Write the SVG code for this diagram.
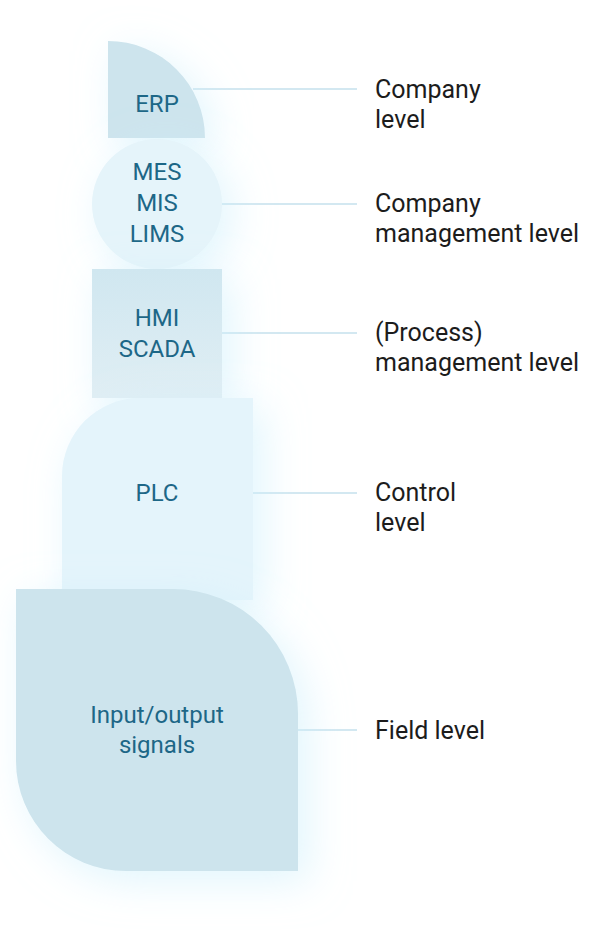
<svg xmlns="http://www.w3.org/2000/svg" width="597" height="936" viewBox="0 0 597 936">
  <defs>
    <filter id="glow" x="-50%" y="-50%" width="200%" height="200%">
      <feGaussianBlur in="SourceAlpha" stdDeviation="20" result="b"/>
      <feOffset in="b" dx="10" dy="10" result="o"/>
      <feFlood flood-color="#cdeffb" flood-opacity="0.6"/>
      <feComposite in2="o" operator="in" result="g"/>
      <feMerge>
        <feMergeNode in="g"/>
        <feMergeNode in="SourceGraphic"/>
      </feMerge>
    </filter>
    <linearGradient id="hmiGrad" x1="0" y1="0" x2="0" y2="1">
      <stop offset="0" stop-color="#d0e7f0"/>
      <stop offset="1" stop-color="#e0eef4"/>
    </linearGradient>
  </defs>
  <style>
    .node-text { font-family: Roboto, "Liberation Sans", sans-serif; font-size: 24px; fill: #1d6787; text-anchor: middle; }
    .label { font-family: Roboto, "Liberation Sans", sans-serif; font-size: 25px; fill: #1c1c1c; }
    .conn { stroke: #d3e8f1; stroke-width: 2; fill: none; }
  </style>
  <rect width="597" height="936" fill="#ffffff"/>

  <g id="connectors">
    <line class="conn" x1="193" y1="89" x2="357" y2="89"/>
    <line class="conn" x1="222" y1="204" x2="357" y2="204"/>
    <line class="conn" x1="222" y1="333" x2="357" y2="333"/>
    <line class="conn" x1="253" y1="493" x2="357" y2="493"/>
    <line class="conn" x1="298" y1="730" x2="357" y2="730"/>
  </g>

  <g id="node-erp">
    <path d="M108,41 A97,97 0 0 1 205,138 H108 Z" fill="#cde4ed" filter="url(#glow)"/>
    <text class="node-text" x="157" y="111.5">ERP</text>
  </g>

  <g id="node-mes">
    <circle cx="157" cy="204" r="65" fill="#e5f4fa" filter="url(#glow)"/>
    <text class="node-text" x="157" y="180">MES</text>
    <text class="node-text" x="157" y="211">MIS</text>
    <text class="node-text" x="157" y="242">LIMS</text>
  </g>

  <g id="node-hmi">
    <rect x="92" y="269" width="130" height="129" fill="url(#hmiGrad)" filter="url(#glow)"/>
    <text class="node-text" x="157" y="326">HMI</text>
    <text class="node-text" x="157" y="357">SCADA</text>
  </g>

  <g id="node-plc">
    <path d="M140,398 H253 V600 H62 V476 A78,78 0 0 1 140,398 Z" fill="#e4f4fb" filter="url(#glow)"/>
    <text class="node-text" x="157" y="501">PLC</text>
  </g>

  <g id="node-io">
    <path d="M16,589 H173 A125,125 0 0 1 298,714 V871 H126 A110,110 0 0 1 16,761 Z" fill="#cde4ed" filter="url(#glow)"/>
    <text class="node-text" x="157" y="723">Input/output</text>
    <text class="node-text" x="157" y="753">signals</text>
  </g>

  <g id="labels">
    <text class="label" x="375" y="97.5">Company</text>
    <text class="label" x="375" y="127.5">level</text>
    <text class="label" x="375" y="212">Company</text>
    <text class="label" x="375" y="242">management level</text>
    <text class="label" x="375" y="341">(Process)</text>
    <text class="label" x="375" y="371">management level</text>
    <text class="label" x="375" y="501">Control</text>
    <text class="label" x="375" y="531">level</text>
    <text class="label" x="375" y="739">Field level</text>
  </g>
</svg>
